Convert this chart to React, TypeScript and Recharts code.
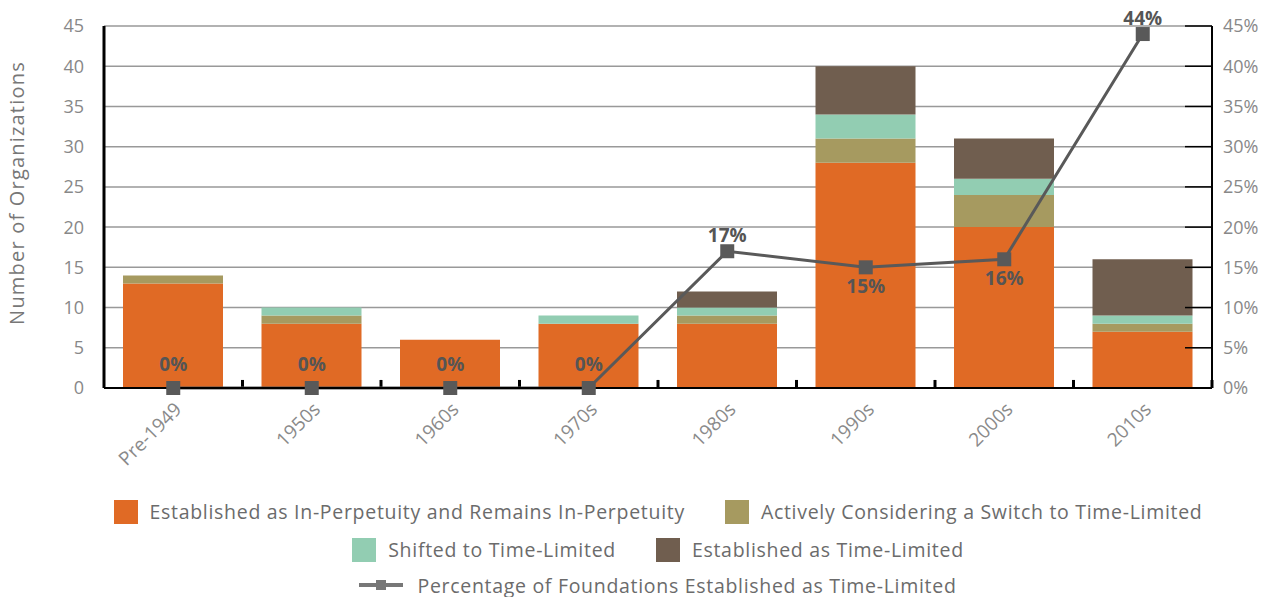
import React from 'react';
import { ComposedChart, Bar, Line, XAxis, YAxis, CartesianGrid, LabelList, ReferenceLine } from 'recharts';

const decades = ['Pre-1949', '1950s', '1960s', '1970s', '1980s', '1990s', '2000s', '2010s'];
const perpetuity = [13, 8, 6, 8, 8, 28, 20, 7];
const considering = [1, 1, 0, 0, 1, 3, 4, 1];
const shifted = [0, 1, 0, 1, 1, 3, 2, 1];
const timeLimited = [0, 0, 0, 0, 2, 6, 5, 7];
const pctTimeLimited = [0, 0, 0, 0, 17, 15, 16, 44];

const countTicks = [0, 5, 10, 15, 20, 25, 30, 35, 40, 45];
const pctTicks = [0, 5, 10, 15, 20, 25, 30, 35, 40, 45];

const ORANGE = '#E06A25';
const OLIVE = '#A69A60';
const TEAL = '#92CDB2';
const BROWN = '#705E4F';
const LINE = '#595959';
const FONT = '"Open Sans", sans-serif';

const data = decades.map((d, i) => ({
  decade: d,
  perpetuity: perpetuity[i],
  considering: considering[i],
  shifted: shifted[i],
  timeLimited: timeLimited[i],
  pct: pctTimeLimited[i],
}));

const SquareDot = (props: any) => {
  const { cx, cy, index } = props;
  return <rect key={`dot-${index}`} x={cx - 7} y={cy - 7} width={14} height={14} fill={LINE} />;
};

const PctLabel = (props: any) => {
  const { x, y, value, index } = props;
  // 1990s and 2000s labels sit under the marker
  const below = decades[index] === '1990s' || decades[index] === '2000s';
  const ly = below ? y + 26 : value === 0 ? y - 17 : y - 9;
  return (
    <text x={x} y={ly} textAnchor="middle" fill="#555" fontFamily={FONT} fontWeight={700} fontSize={19}>
      {value}%
    </text>
  );
};

const legendItems = [
  [
    { label: 'Established as In-Perpetuity and Remains In-Perpetuity', color: ORANGE },
    { label: 'Actively Considering a Switch to Time-Limited', color: OLIVE },
  ],
  [
    { label: 'Shifted to Time-Limited', color: TEAL },
    { label: 'Established as Time-Limited', color: BROWN },
  ],
];

const textStyle: React.CSSProperties = {
  fontFamily: FONT,
  fontSize: 19.5,
  letterSpacing: 0.7,
  color: '#6b6b6b',
  whiteSpace: 'nowrap',
};

export default function App() {
  return (
    <div style={{ position: 'absolute', left: 0, top: 0, width: 1270, height: 597, background: '#fff' }}>
      <ComposedChart
        width={1270}
        height={495}
        data={data}
        margin={{ top: 26, right: 0, bottom: 0, left: 0 }}
      >
        <CartesianGrid vertical={false} yAxisId="count" stroke="#999" strokeWidth={1.5} />
        <XAxis
          dataKey="decade"
          height={107}
          interval={0}
          axisLine={{ stroke: '#000', strokeWidth: 2 }}
          tickLine={false}
          angle={-45}
          textAnchor="end"
          tickMargin={7}
          tick={{ fill: '#8a8a8a', fontSize: 19, fontFamily: FONT }}
        />
        <YAxis
          yAxisId="count"
          width={104}
          domain={[0, 45]}
          ticks={countTicks}
          axisLine={{ stroke: '#000', strokeWidth: 3 }}
          tickLine={false}
          tickMargin={14}
          tick={{ fill: '#888', fontSize: 18, fontFamily: FONT }}
          label={{
            content: () => (
              <text
                x={24}
                y={193}
                transform="rotate(-90 24 193)"
                textAnchor="middle"
                fill="#777"
                fontSize={20}
                letterSpacing={1.2}
                fontFamily={FONT}
              >
                Number of Organizations
              </text>
            ),
          }}
        />
        <YAxis
          yAxisId="pct"
          orientation="right"
          width={58}
          domain={[0, 45]}
          ticks={pctTicks}
          tickFormatter={(v: number) => `${v}%`}
          axisLine={{ stroke: '#000', strokeWidth: 2 }}
          tickLine={{ stroke: '#000', strokeWidth: 1.5 }}
          tickSize={-27}
          tickMargin={38}
          tick={{ fill: '#888', fontSize: 18, fontFamily: FONT }}
        />
        <Bar yAxisId="count" dataKey="perpetuity" stackId="a" fill={ORANGE} barSize={100} isAnimationActive={false} />
        <Bar yAxisId="count" dataKey="considering" stackId="a" fill={OLIVE} barSize={100} isAnimationActive={false} />
        <Bar yAxisId="count" dataKey="shifted" stackId="a" fill={TEAL} barSize={100} isAnimationActive={false} />
        <Bar yAxisId="count" dataKey="timeLimited" stackId="a" fill={BROWN} barSize={100} isAnimationActive={false} />
        {/* small marks between the decades */}
        {decades.slice(1).map((d) => (
          <ReferenceLine
            key={d}
            yAxisId="count"
            position="start"
            segment={[{ x: d, y: 0 }, { x: d, y: 1 }]}
            stroke="#000"
            strokeWidth={3}
          />
        ))}
        <ReferenceLine
          yAxisId="count"
          position="end"
          segment={[{ x: decades[decades.length - 1], y: 0 }, { x: decades[decades.length - 1], y: 1 }]}
          stroke="#000"
          strokeWidth={3}
        />
        <Line
          yAxisId="pct"
          dataKey="pct"
          stroke={LINE}
          strokeWidth={3}
          dot={SquareDot}
          activeDot={false}
          isAnimationActive={false}
        >
          <LabelList dataKey="pct" content={PctLabel} />
        </Line>
      </ComposedChart>

      <div style={{ position: 'absolute', left: 104, top: 495, width: 1108 }}>
        {legendItems.map((row, r) => (
          <div
            key={r}
            style={{ display: 'flex', justifyContent: 'center', alignItems: 'center', height: 35, marginTop: r === 0 ? -1 : 3, gap: 40 }}
          >
            {row.map((it) => (
              <div key={it.label} style={{ display: 'flex', alignItems: 'center' }}>
                <span style={{ width: 24, height: 24, background: it.color, marginRight: 12, display: 'inline-block' }} />
                <span style={textStyle}>{it.label}</span>
              </div>
            ))}
          </div>
        ))}
        <div style={{ display: 'flex', justifyContent: 'center', alignItems: 'center', height: 30, marginTop: 3 }}>
          <svg width={44} height={14} style={{ marginRight: 14 }}>
            <line x1={0} y1={7} x2={44} y2={7} stroke="#777" strokeWidth={4} />
            <rect x={17} y={2} width={10} height={10} fill="#777" />
          </svg>
          <span style={textStyle}>Percentage of Foundations Established as Time-Limited</span>
        </div>
      </div>
    </div>
  );
}
